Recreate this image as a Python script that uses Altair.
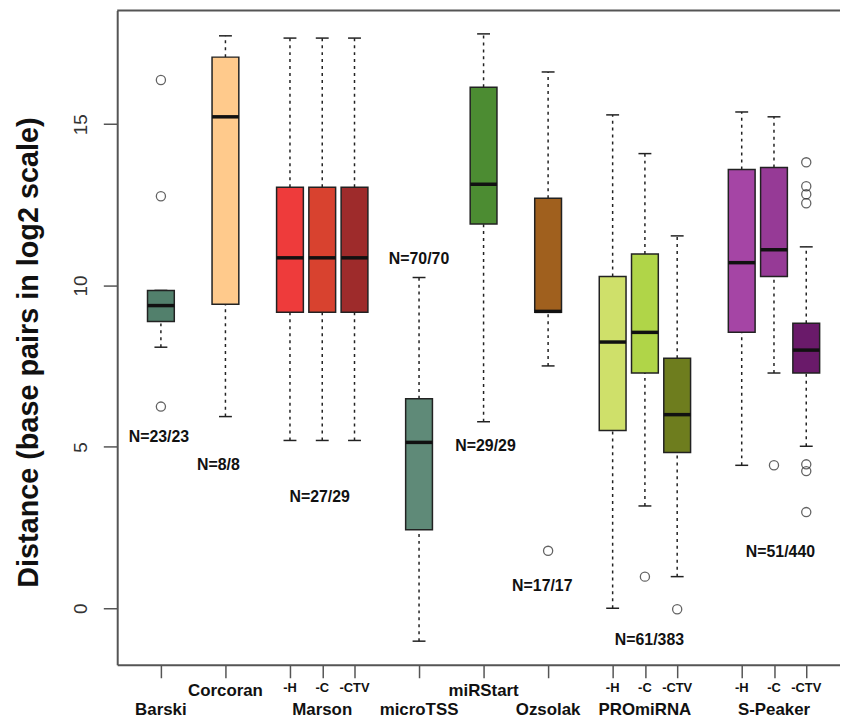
import altair as alt
import pandas as pd

# ---- data ----
positions = [1, 3, 5, 6, 7, 9, 11, 13, 15, 16, 17, 19, 20, 21]
names = ["Barski", "Corcoran", "Marson-H", "Marson-C", "Marson-CTV", "microTSS",
         "miRStart", "Ozsolak", "PROmiRNA-H", "PROmiRNA-C", "PROmiRNA-CTV",
         "S-Peaker-H", "S-Peaker-C", "S-Peaker-CTV"]
lower = [8.09, 5.94, 5.2, 5.2, 5.2, -1.02, 5.78, 7.51, 0.0, 3.17, 0.98, 4.43, 7.29, 5.02]
q1 = [8.89, 9.42, 9.17, 9.17, 9.17, 2.43, 11.91, 9.17, 5.51, 7.29, 4.83, 8.55, 10.28, 7.29]
median = [9.38, 15.23, 10.86, 10.86, 10.86, 5.14, 13.14, 9.2, 8.25, 8.55, 6.0, 10.71, 11.11, 8.0]
q3 = [9.85, 17.08, 13.05, 13.05, 13.05, 6.49, 16.15, 12.71, 10.28, 10.98, 7.75, 13.6, 13.66, 8.83]
upper = [9.85, 17.74, 17.67, 17.67, 17.67, 10.25, 17.8, 16.62, 15.29, 14.09, 11.54, 15.38, 15.23, 11.2]
colors = ["#52806C", "#FFCA8C", "#EE3B3B", "#D8422F", "#9E2B2B", "#5F8A78",
          "#4C8C32", "#A0601E", "#CFE06A", "#B0D548", "#6E7D1E",
          "#A545A5", "#963A96", "#6A1A6A"]

outlier_pos = [1, 1, 1, 13, 16, 17, 20, 21, 21, 21, 21, 21, 21, 21]
outlier_val = [16.37, 12.77, 6.25, 1.78, 0.98, -0.03, 4.43, 13.82, 13.08, 12.83, 12.55, 4.46, 4.25, 2.98]

n_labels = ["N=23/23", "N=8/8", "N=27/29", "N=70/70", "N=29/29", "N=17/17", "N=61/383", "N=51/440"]
n_x = [0.94, 2.78, 5.92, 9.0, 11.06, 12.82, 16.14, 20.2]
n_y = [5.32, 4.43, 3.45, 10.83, 5.02, 0.68, -0.98, 1.75]

row1_pos = [3, 11]
row1_text = ["Corcoran", "miRStart"]
sub_pos = [5, 6, 7, 15, 16, 17, 19, 20, 21]
sub_text = ["-H", "-C", "-CTV", "-H", "-C", "-CTV", "-H", "-C", "-CTV"]
row2_pos = [1, 6, 9, 13, 16, 20]
row2_text = ["Barski", "Marson", "microTSS", "Ozsolak", "PROmiRNA", "S-Peaker"]
y_ticks = [0, 5, 10, 15]

# ---- tables ----
boxes = pd.DataFrame({"pos": positions, "name": names, "lower": lower, "q1": q1,
                      "median": median, "q3": q3, "upper": upper, "color": colors})
outl = pd.DataFrame({"pos": outlier_pos, "val": outlier_val})
nlab = pd.DataFrame({"x": n_x, "y": n_y, "t": n_labels})
r1 = pd.DataFrame({"pos": row1_pos, "t": row1_text})
rs = pd.DataFrame({"pos": sub_pos, "t": sub_text})
r2 = pd.DataFrame({"pos": row2_pos, "t": row2_text})

W, H = 728, 659
xs = alt.Scale(domain=[-0.354, 22.046], nice=False, zero=False)
ys = alt.Scale(domain=[-1.754, 18.523], nice=False, zero=False)
FONT = "Liberation Sans"
HALF = 0.415
CAP = 0.2

base = alt.Chart(boxes).transform_calculate(
    xl=f"datum.pos - {HALF}", xr=f"datum.pos + {HALF}",
    cl=f"datum.pos - {CAP}", cr=f"datum.pos + {CAP}")

xax = alt.X("pos:Q", scale=xs,
            axis=alt.Axis(values=positions, labels=False, title=None, grid=False,
                          tickSize=13, tickColor="#555", tickWidth=1.5,
                          domainColor="#555", domainWidth=2))
yax = alt.Y("q3:Q", scale=ys,
            axis=alt.Axis(values=y_ticks, title="Distance (base pairs in log2 scale)",
                          grid=False, tickSize=14, tickColor="#555", tickWidth=1.5,
                          domainColor="#555", domainWidth=2,
                          labelAngle=270, labelAlign="center", labelBaseline="middle",
                          labelPadding=23, labelFontSize=19, labelColor="#333",
                          labelFont=FONT,
                          titleFont=FONT, titleFontSize=29, titleFontWeight="bold",
                          titleAngle=270, titleAlign="center", titleBaseline="middle",
                          titleX=-89, titleY=344, titleColor="#111"))

whisk_up = base.mark_rule(strokeDash=[3, 4], strokeWidth=1.5, color="#222").encode(
    x=xax, y=yax, y2="upper:Q")
whisk_lo = base.mark_rule(strokeDash=[3, 4], strokeWidth=1.5, color="#222").encode(
    x="pos:Q", y=alt.Y("lower:Q", scale=ys), y2="q1:Q")
cap_up = base.mark_rule(strokeWidth=1.5, color="#222").encode(
    x=alt.X("cl:Q", scale=xs), x2="cr:Q", y=alt.Y("upper:Q", scale=ys))
cap_lo = base.mark_rule(strokeWidth=1.5, color="#222").encode(
    x=alt.X("cl:Q", scale=xs), x2="cr:Q", y=alt.Y("lower:Q", scale=ys))
box = base.mark_rect(stroke="#222", strokeWidth=1.5).encode(
    x=alt.X("xl:Q", scale=xs), x2="xr:Q",
    y=alt.Y("q1:Q", scale=ys), y2="q3:Q",
    fill=alt.Color("color:N", scale=None))
med = base.mark_rule(strokeWidth=3.5, color="#111").encode(
    x=alt.X("xl:Q", scale=xs), x2="xr:Q", y=alt.Y("median:Q", scale=ys))

pts = alt.Chart(outl).mark_point(shape="circle", filled=False, size=85,
                                  stroke="#222", strokeWidth=1.3).encode(
    x=alt.X("pos:Q", scale=xs), y=alt.Y("val:Q", scale=ys))

ntext = alt.Chart(nlab).mark_text(font=FONT, fontSize=16, fontWeight="bold",
                                  color="#111").encode(
    x=alt.X("x:Q", scale=xs), y=alt.Y("y:Q", scale=ys), text="t:N")

t1 = alt.Chart(r1).mark_text(font=FONT, fontSize=17, fontWeight="bold",
                             color="#111", baseline="middle").encode(
    x=alt.X("pos:Q", scale=xs), y=alt.value(685), text="t:N")
ts = alt.Chart(rs).mark_text(font=FONT, fontSize=13, fontWeight="bold",
                             color="#111", baseline="middle").encode(
    x=alt.X("pos:Q", scale=xs), y=alt.value(682), text="t:N")
t2 = alt.Chart(r2).mark_text(font=FONT, fontSize=17, fontWeight="bold",
                             color="#111", baseline="middle").encode(
    x=alt.X("pos:Q", scale=xs), y=alt.value(705), text="t:N")

top_line = alt.Chart(pd.DataFrame({"a": [0]})).mark_rule(color="#555", strokeWidth=2).encode(
    x=alt.value(0), x2=alt.value(W), y=alt.value(0))

chart = alt.layer(whisk_up, whisk_lo, cap_up, cap_lo, box, med, pts, ntext,
                  t1, ts, t2, top_line).properties(
    width=W, height=H,
    autosize=alt.AutoSizeParams(type="none"),
    padding={"left": 110, "top": 0, "right": 0, "bottom": 57},
    background="white",
).configure_view(stroke=None)

chart.save("out.html", embed_options={"renderer": "svg", "actions": False})
